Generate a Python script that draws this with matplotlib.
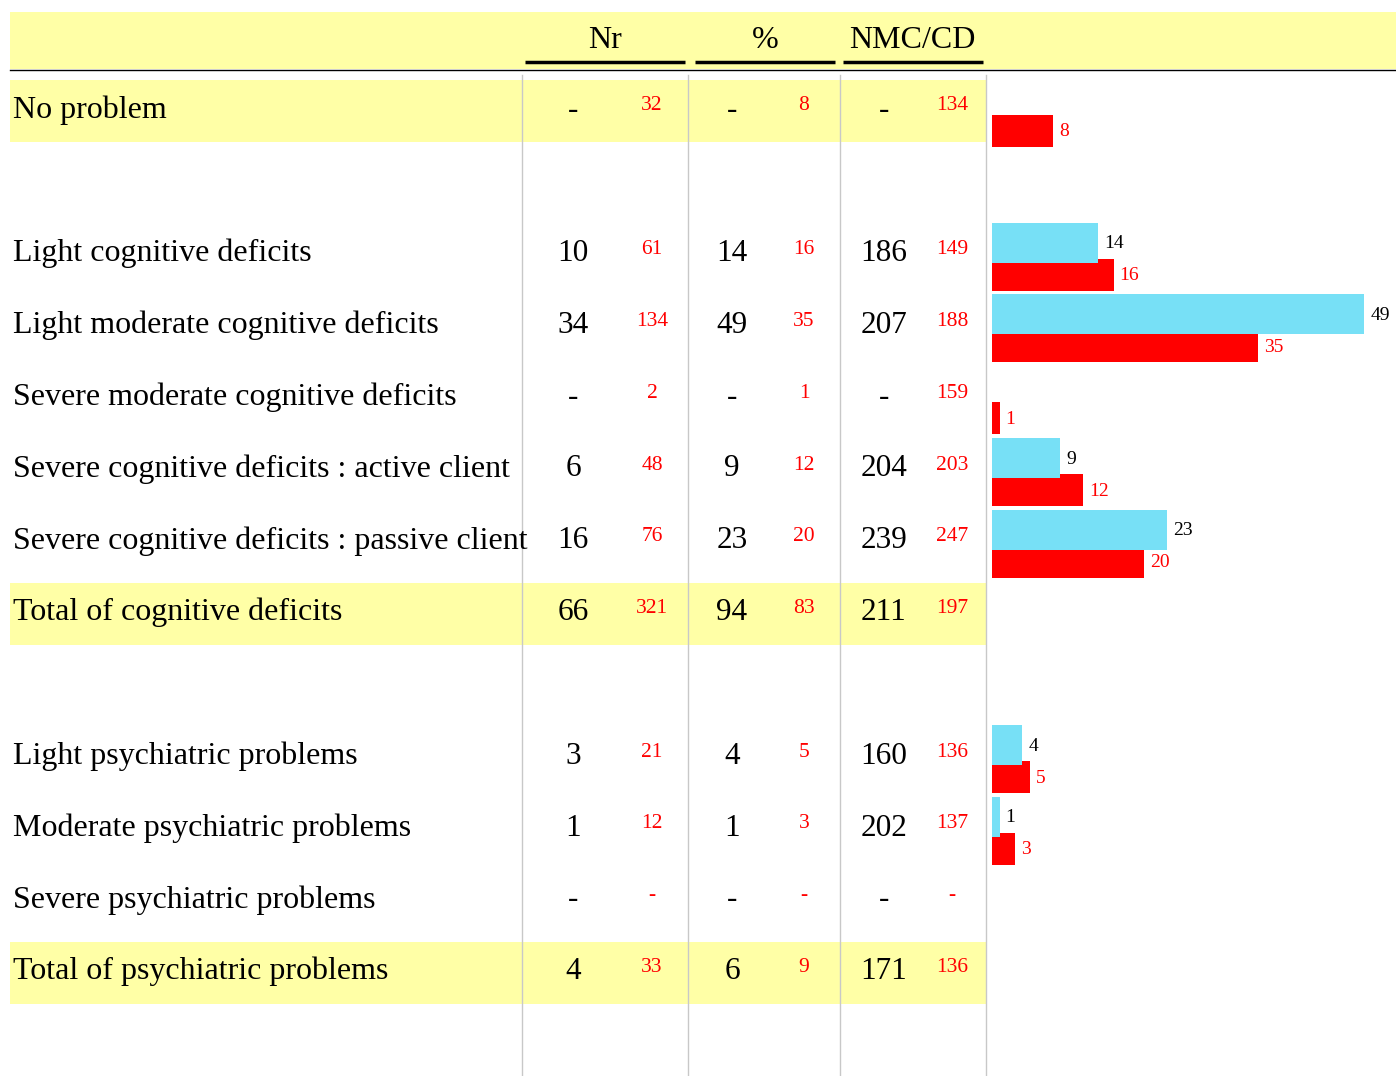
import matplotlib
matplotlib.use("Agg")
import matplotlib.pyplot as plt

labels = ["No problem", None,
          "Light cognitive deficits", "Light moderate cognitive deficits",
          "Severe moderate cognitive deficits", "Severe cognitive deficits : active client",
          "Severe cognitive deficits : passive client", "Total of cognitive deficits", None,
          "Light psychiatric problems", "Moderate psychiatric problems",
          "Severe psychiatric problems", "Total of psychiatric problems"]
highlight = [True, False, False, False, False, False, False, True, False, False, False, False, True]
is_total = [False, False, False, False, False, False, False, True, False, False, False, False, True]

nr = [None, None, 10, 34, None, 6, 16, 66, None, 3, 1, None, 4]
nr_ref = [32, None, 61, 134, 2, 48, 76, 321, None, 21, 12, None, 33]
pct = [None, None, 14, 49, None, 9, 23, 94, None, 4, 1, None, 6]
pct_ref = [8, None, 16, 35, 1, 12, 20, 83, None, 5, 3, None, 9]
nmc = [None, None, 186, 207, None, 204, 239, 211, None, 160, 202, None, 171]
nmc_ref = [134, None, 149, 188, 159, 203, 247, 197, None, 136, 137, None, 136]

headers = ["Nr", "%", "NMC/CD"]

YELLOW = "#FFFFA6"
BLUE = "#77E0F6"
RED = "#FF0000"
FONT = "Liberation Serif"

W, H = 1396, 1076
fig = plt.figure(figsize=(W / 100, H / 100), dpi=100)
ax = fig.add_axes([0, 0, 1, 1])
ax.set_xlim(0, W)
ax.set_ylim(H, 0)
ax.axis("off")

# header
ax.add_patch(plt.Rectangle((10, 12), W - 10, 57, color=YELLOW, lw=0, zorder=0))
ax.plot([10, W], [69.5, 69.5], color="black", lw=1.0)
hdr_x = [605, 765, 912]
ul = [(525, 685), (695, 835), (843, 983)]
for h, x, (a, b) in zip(headers, hdr_x, ul):
    ax.text(x, 40, h, ha="center", va="center", fontsize=23, family=FONT)
    ax.plot([a, b], [62, 62], color="black", lw=2.5, solid_capstyle="butt")

# grid lines
for x in [522, 688, 840, 986]:
    ax.plot([x, x], [75, H], color="#C8C8C8", lw=1.0, zorder=1)

row0, step = 107, 71.8
centers = [row0 + step * i for i in range(len(labels))]

col_black = [573, 732, 884]
col_red = [652, 804, 952]

for i, lab in enumerate(labels):
    if lab is None:
        continue
    c = centers[i]
    if highlight[i]:
        ax.add_patch(plt.Rectangle((10, c - 27), 977, 62, color=YELLOW, lw=0, zorder=0))
    ax.text(13, c + 3, lab, ha="left", va="center", fontsize=23, family=FONT)
    for xb, xr, vb, vr in zip(col_black, col_red, (nr[i], pct[i], nmc[i]),
                              (nr_ref[i], pct_ref[i], nmc_ref[i])):
        ax.text(xb, c + 3, "-" if vb is None else str(vb), ha="center", va="center",
                fontsize=22.5, family=FONT)
        ax.text(xr, c - 1, "-" if vr is None else str(vr), ha="center", va="center",
                fontsize=15.5, family=FONT, color=RED)

# bars
bx0 = 992
scale = 7.6  # px per percent
bax = fig.add_axes([bx0 / W, 0, (W - bx0) / W, 1])
bax.set_xlim(0, (W - bx0) / scale)
bax.set_ylim(H, 0)
bax.axis("off")
for i, lab in enumerate(labels):
    if lab is None or is_total[i]:
        continue
    c = centers[i]
    if pct_ref[i]:
        bax.barh(c + 24, pct_ref[i], height=32, color=RED, zorder=2)
        bax.text(pct_ref[i] + 0.8, c + 25, str(pct_ref[i]), ha="left", va="center",
                 fontsize=14, family=FONT, color=RED)
    if pct[i]:
        bax.barh(c - 8, pct[i], height=40, color=BLUE, zorder=3)
        bax.text(pct[i] + 0.8, c - 7, str(pct[i]), ha="left", va="center",
                 fontsize=14, family=FONT, color="black")

fig.savefig("out.png", dpi=100)
